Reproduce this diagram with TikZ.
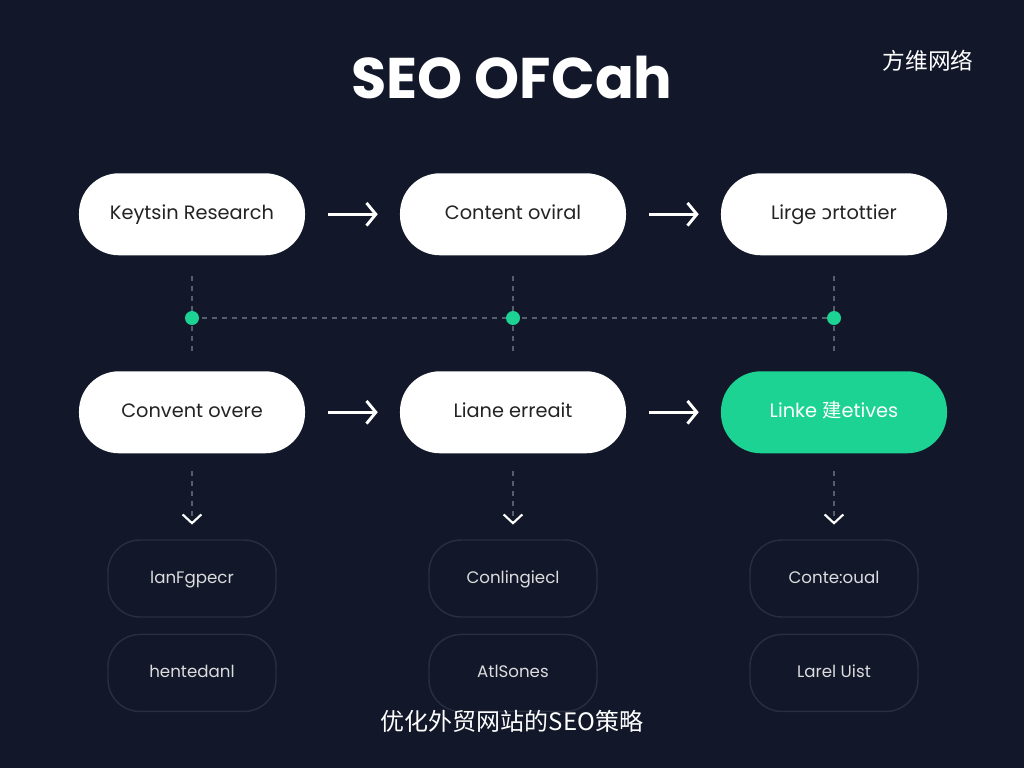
\documentclass[tikz,border=0pt]{standalone}
\usepackage{fontspec}
\setmainfont{Poppins}
\newfontfamily\cjk{Noto Sans CJK SC}
\newfontfamily\dejavu{DejaVu Sans}
\usetikzlibrary{arrows.meta}
\definecolor{navy}{HTML}{121829}
\definecolor{mint}{HTML}{1CD394}
\definecolor{ink}{HTML}{232323}
\definecolor{rim}{HTML}{272E40}
\definecolor{guide}{HTML}{565D6D}

\begin{document}
\begin{tikzpicture}[x=0.75pt,y=-0.75pt]
    \tikzstyle{pill} = [rectangle, fill=white, text=ink, rounded corners=30pt, minimum width=169.5pt, minimum height=61.5pt, inner sep=0pt, text height=1.6ex, text depth=.3ex, anchor=center, font=\fontsize{14.5}{17}\selectfont]
    \tikzstyle{hot} = [pill, fill=mint, text=white]
    \tikzstyle{ghost} = [rectangle, draw=rim, line width=1.1pt, text=white!85!navy, rounded corners=24pt, minimum width=126pt, minimum height=57.75pt, inner sep=0pt, text height=1.6ex, text depth=.3ex, anchor=center, font=\fontsize{12.5}{15}\selectfont]
    \tikzstyle{flow} = [white, line width=2.2pt, shorten <=17pt, shorten >=16.5pt, -{Straight Barb[length=7pt, width=17pt]}]
    \tikzstyle{guideline} = [guide, line width=1pt, dash pattern=on 4pt off 3.5pt]
    \tikzstyle{drop} = [guideline, shorten <=13pt, shorten >=11pt, -{Straight Barb[length=6.5pt, width=14pt, line width=1.6pt, color=white]}]
    \tikzstyle{dot} = [circle, fill=mint, minimum size=10.5pt, inner sep=0pt]

    % page
    \fill[navy] (0,0) rectangle (1024,768);
    \useasboundingbox (0,0) rectangle (1024,768);

    \node[font=\fontsize{43}{48}\selectfont\bfseries, text=white] (title) at (512,78) {SEO OFCah};
    \node[font=\cjk\fontsize{17}{20}\selectfont, text=white] (brand) at (928,61) {方维网络};

    \matrix[inner sep=0pt, anchor=north, column sep=71.25pt] at (513,173) {
    \node[pill] (k1) {Keytsin Research}; & \node[pill] (k2) {Content oviral}; & \node[pill] (k3) {Lirge {\dejavu ɔ}rtottier}; \\[87pt]
    \node[pill] (c1) {Convent overe};    & \node[pill] (c2) {Liane erreait};  & \node[hot] (c3) {Linke {\cjk 建}etives}; \\[64.5pt]
    \node[ghost] (o1) {lanFgpecr};       & \node[ghost] (o2) {Conlingiecl};   & \node[ghost] (o3) {Conte:oual}; \\[12pt]
    \node[ghost] (p1) {hentedanl};       & \node[ghost] (p2) {AtlSones};      & \node[ghost] (p3) {Larel Uist}; \\
    };

    % arrows
    \draw[flow] (k1) -- (k2);
    \draw[flow] (k2) -- (k3);
    \draw[flow] (c1) -- (c2);
    \draw[flow] (c2) -- (c3);

    % timeline
    \coordinate (d1) at (k1 |- 0,318);
    \coordinate (d2) at (k2 |- 0,318);
    \coordinate (d3) at (k3 |- 0,318);
    \foreach \i in {1,2,3} {
        \draw[guideline, shorten <=15pt, shorten >=12pt] (k\i) -- (c\i);
        \draw[drop] (c\i) -- (o\i);
    }
    \draw[guideline] (d1) -- (d3);
    \foreach \i in {1,2,3} \node[dot] at (d\i) {};

    \node[font=\cjk\fontsize{18}{22}\selectfont, text=white] (caption) at (512,721) {优化外贸网站的SEO策略};
\end{tikzpicture}
\end{document}
